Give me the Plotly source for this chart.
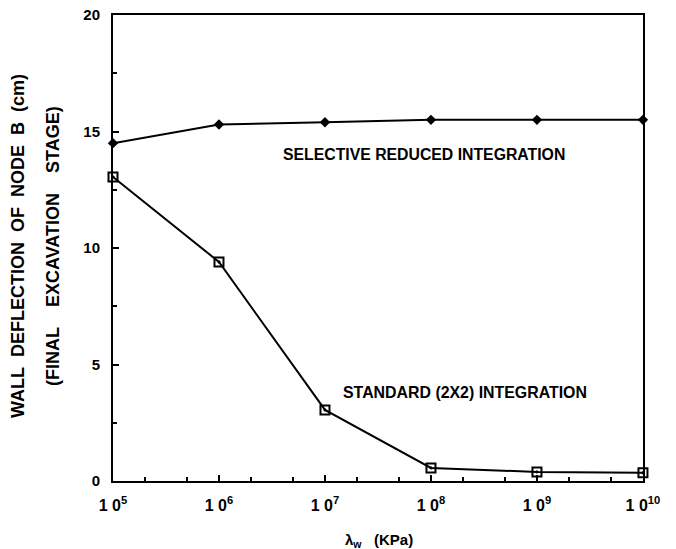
import plotly.graph_objects as go

lambda_w = [1e5, 1e6, 1e7, 1e8, 1e9, 1e10]
selective = [14.5, 15.3, 15.4, 15.5, 15.5, 15.5]
standard = [13.05, 9.4, 3.05, 0.56, 0.39, 0.35]
x_tick_vals = [1e5, 1e6, 1e7, 1e8, 1e9, 1e10]
x_tick_text = ["<b>1 0<sup>5</sup></b>", "<b>1 0<sup>6</sup></b>", "<b>1 0<sup>7</sup></b>",
               "<b>1 0<sup>8</sup></b>", "<b>1 0<sup>9</sup></b>", "<b>1 0<sup>10</sup></b>"]
y_tick_vals = [0, 5, 10, 15, 20]

font = "Liberation Sans, Arial, sans-serif"
NB = "\u00a0"

fig = go.Figure()
fig.add_trace(go.Scatter(
    x=lambda_w, y=selective, mode="lines+markers", cliponaxis=False,
    line=dict(color="black", width=2),
    marker=dict(symbol="diamond", size=8, color="black"),
    showlegend=False))
fig.add_trace(go.Scatter(
    x=lambda_w, y=standard, mode="lines+markers", cliponaxis=False,
    line=dict(color="black", width=2),
    marker=dict(symbol="square-open-dot", size=9, color="black", line=dict(width=2)),
    showlegend=False))

fig.add_annotation(x=7.93, y=14.0, xref="x", yref="y", text="<b>SELECTIVE REDUCED INTEGRATION</b>",
                   showarrow=False, font=dict(family=font, size=15.8, color="black"))
fig.add_annotation(x=8.32, y=3.78, xref="x", yref="y", text="<b>STANDARD (2X2) INTEGRATION</b>",
                   showarrow=False, font=dict(family=font, size=15.9, color="black"))

line1 = (NB * 2).join("WALL DEFLECTION OF NODE B (cm)".split(" "))
line2 = (NB * 4).join("(FINAL EXCAVATION STAGE)".split(" "))
fig.add_annotation(x=(18 - 113) / 530, y=(481 - 246) / 466, xref="paper", yref="paper",
                   xanchor="center", yanchor="middle", text=f"<b>{line1}</b>",
                   textangle=-90, showarrow=False, font=dict(family=font, size=18, color="black"))
fig.add_annotation(x=(53 - 113) / 530, y=(481 - 246) / 466, xref="paper", yref="paper",
                   xanchor="center", yanchor="middle", text=f"<b>{line2}</b>",
                   textangle=-90, showarrow=False, font=dict(family=font, size=18, color="black"))
fig.add_annotation(x=(379 - 113) / 530, y=-(540 - 481) / 466, xref="paper", yref="paper",
                   xanchor="center", yanchor="middle",
                   text="<b>λ<sub>w</sub>" + NB * 3 + "(KPa)</b>",
                   showarrow=False, font=dict(family=font, size=15, color="black"))

fig.update_xaxes(type="log", range=[5, 10.0005], tickvals=x_tick_vals, ticktext=x_tick_text,
                 automargin=False, ticklabeloverflow="allow", ticklabelstandoff=9,
                 showline=True, linecolor="black", linewidth=2, mirror=True,
                 ticks="inside", ticklen=6, tickwidth=2, tickcolor="black",
                 minor=dict(ticks="inside", ticklen=4, tickwidth=1.5, tickcolor="black"),
                 showgrid=False, zeroline=False,
                 tickfont=dict(family=font, size=16, color="black"))
fig.update_yaxes(range=[0, 20], tickvals=y_tick_vals, ticktext=[f"<b>{v}</b>" for v in y_tick_vals],
                 automargin=False, ticklabelstandoff=8,
                 showline=True, linecolor="black", linewidth=2, mirror=True,
                 ticks="inside", ticklen=6, tickwidth=2, tickcolor="black",
                 minor=dict(dtick=2.5, ticks="inside", ticklen=4, tickwidth=1.5, tickcolor="black"),
                 showgrid=False, zeroline=False,
                 tickfont=dict(family=font, size=15, color="black"))

fig.update_layout(width=676, height=549, margin=dict(l=113, r=33, t=15, b=68),
                  paper_bgcolor="white", plot_bgcolor="white")
fig.write_html("out.html", config={"displayModeBar": False},
               post_script="document.body.style.margin='0';document.body.style.overflow='hidden';")
